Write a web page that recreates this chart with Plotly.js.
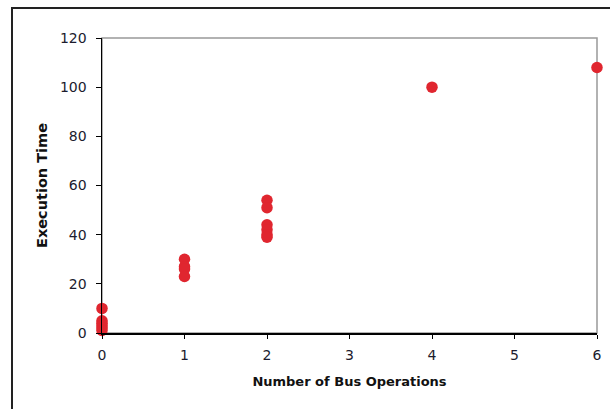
<!DOCTYPE html>
<html>
<head>
<meta charset="utf-8">
<script src="https://cdn.plot.ly/plotly-3.0.1.min.js"></script>
<style>
html,body{margin:0;padding:0;background:#fff;overflow:hidden;width:610px;height:409px;}
#frame{position:absolute;left:11px;top:7px;width:620px;height:420px;border:2px solid #222;box-sizing:border-box;}
#chart{position:absolute;left:0;top:0;width:610px;height:409px;}
</style>
</head>
<body>
<div id="frame"></div>
<div id="chart"></div>
<script>
const busOps = [0, 0, 0, 0, 0, 0, 1, 1, 1, 1, 2, 2, 2, 2, 2, 2, 4, 6];
const execTime = [10, 5, 4, 3, 2, 1, 30, 27, 26, 23, 54, 51, 44, 42, 40, 39, 100, 108];
const xTicks = [0, 1, 2, 3, 4, 5, 6];
const yTicks = [0, 20, 40, 60, 80, 100, 120];

const fam = 'DejaVu Sans, Verdana, sans-serif';
const tickFont = {family: fam, size: 14, color: '#1c1c2e'};
const xTitleFont = {family: fam, size: 13, color: '#111', weight: 'bold'};
const yTitleFont = {family: fam, size: 14.5, color: '#111', weight: 'bold'};

Plotly.newPlot('chart', [{
  x: busOps, y: execTime, type: 'scatter', mode: 'markers',
  marker: {color: '#e0262f', size: 11.5, line: {width: 0}},
  cliponaxis: false, hoverinfo: 'x+y'
}], {
  width: 610, height: 409,
  margin: {l: 102, r: 13, t: 38, b: 76},
  paper_bgcolor: 'rgba(0,0,0,0)', plot_bgcolor: '#fff',
  showlegend: false,
  font: tickFont,
  xaxis: {
    range: [0, 6], tickvals: xTicks, ticktext: xTicks.map(String),
    showgrid: false, zeroline: false, showline: true, linecolor: '#000', linewidth: 1.5,
    ticks: 'outside', ticklen: 4, tickcolor: '#000', tickfont: tickFont, ticklabelstandoff: 5,
    title: {text: 'Number of Bus Operations', font: xTitleFont, standoff: 14}
  },
  yaxis: {
    range: [0, 120], tickvals: yTicks, ticktext: yTicks.map(String),
    showgrid: false, zeroline: false, showline: true, linecolor: '#000', linewidth: 1.5,
    ticks: 'outside', ticklen: 5, tickcolor: '#000', tickfont: tickFont, ticklabelstandoff: 6,
    title: {text: 'Execution Time', font: yTitleFont, standoff: 9}
  },
  shapes: [{type: 'rect', xref: 'paper', yref: 'paper', x0: 0, x1: 1, y0: 0, y1: 1,
    line: {color: '#999', width: 1.5}, layer: 'below'}]
}, {displayModeBar: false, staticPlot: true});
</script>
</body>
</html>
